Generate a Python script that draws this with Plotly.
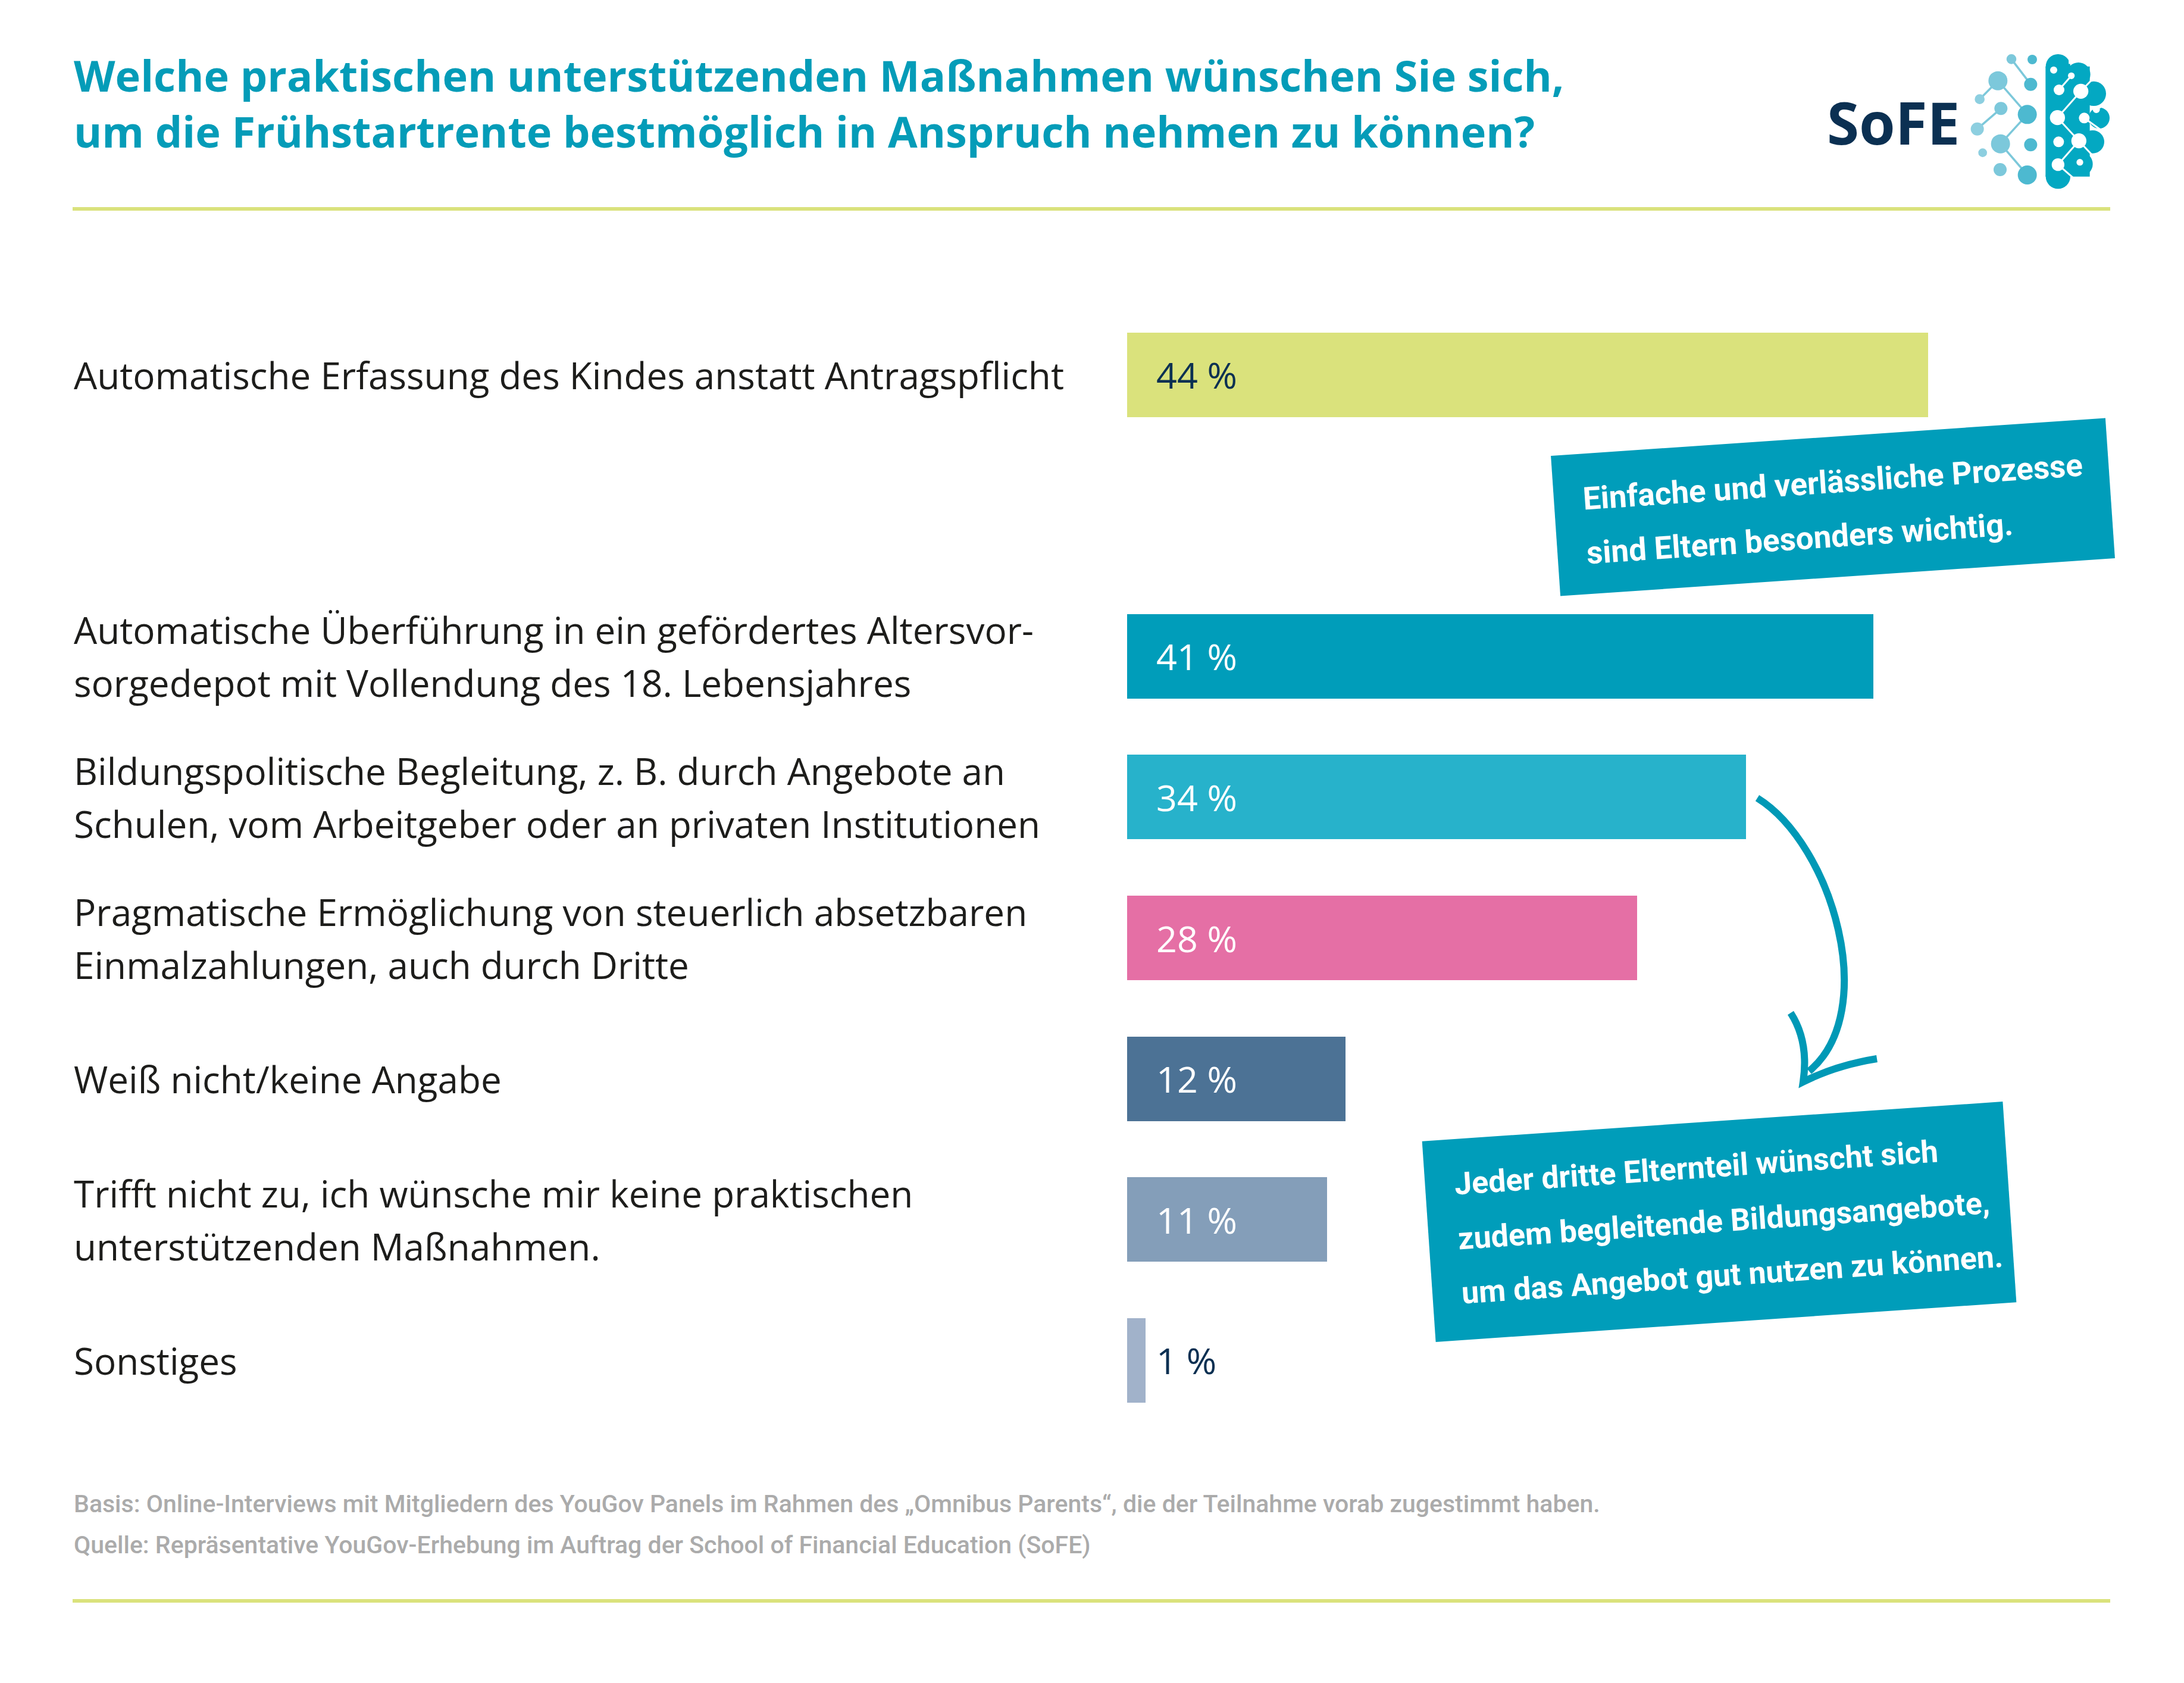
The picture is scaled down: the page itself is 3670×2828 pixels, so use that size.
import math
import plotly.graph_objects as go

W, H = 3670, 2828

# ---------------- data ----------------
categories = [
    "Automatische Erfassung des Kindes anstatt Antragspflicht",
    "Automatische Überführung in ein gefördertes Altersvor-<br>sorgedepot mit Vollendung des 18. Lebensjahres",
    "Bildungspolitische Begleitung, z. B. durch Angebote an<br>Schulen, vom Arbeitgeber oder an privaten Institutionen",
    "Pragmatische Ermöglichung von steuerlich absetzbaren<br>Einmalzahlungen, auch durch Dritte",
    "Weiß nicht/keine Angabe",
    "Trifft nicht zu, ich wünsche mir keine praktischen<br>unterstützenden Maßnahmen.",
    "Sonstiges",
]
values = [44, 41, 34, 28, 12, 11, 1]
bar_colors = ["#DAE27C", "#009DBA", "#27B2CB", "#E56FA5", "#4C7295", "#849EB9", "#A1B2CA"]
value_label_colors = ["#0B3052", "#FFFFFF", "#FFFFFF", "#FFFFFF", "#FFFFFF", "#FFFFFF", "#0B3052"]

title_lines = [
    "Welche praktischen unterstützenden Maßnahmen wünschen Sie sich,",
    "um die Frühstartrente bestmöglich in Anspruch nehmen zu können?",
]
callout1_lines = ["Einfache und verlässliche Prozesse", "sind Eltern besonders wichtig."]
callout2_lines = [
    "Jeder dritte Elternteil wünscht sich",
    "zudem begleitende Bildungsangebote,",
    "um das Angebot gut nutzen zu können.",
]
footer_lines = [
    "Basis: Online-Interviews mit Mitgliedern des YouGov Panels im Rahmen des \u201eOmnibus Parents\u201c, die der Teilnahme vorab zugestimmt haben.",
    "Quelle: Repräsentative YouGov-Erhebung im Auftrag der School of Financial Education (SoFE)",
]

# ---------------- layout helpers ----------------
OPEN = "Open Sans"
NARROW = "Roboto"
TEAL = "#009DBA"
LIME = "#DAE27C"


def PX(x):
    return x / W


def PY(y):
    return 1 - y / H


# bar positions: one empty slot after the first bar
positions = [0] + [i + 1 for i in range(1, len(categories))]

X0_PX, X1_PX = 1893.6, 3546.0
PX_PER_PCT = 30.59
UNIT = 236.6
Y0_PX = 629.6

fig = go.Figure()
fig.add_trace(go.Bar(
    x=values, y=positions, orientation="h",
    marker=dict(color=bar_colors, line=dict(width=0)),
    width=0.6, hoverinfo="skip", showlegend=False,
))

annotations = []
shapes = []


def ann(x, y, text, size, color, family=OPEN, weight=400, xanchor="left",
        yanchor="middle", xref="paper", yref="paper", yshift=0, xshift=0,
        angle=0, width=None, align="left"):
    d = dict(x=x, y=y, xref=xref, yref=yref, text=text, showarrow=False,
             xanchor=xanchor, yanchor=yanchor, xshift=xshift, yshift=yshift,
             align=align, textangle=angle,
             font=dict(family=family, size=size, color=color, weight=weight))
    if width is not None:
        d["width"] = width
    annotations.append(d)


# title (one two-line text)
ann(PX(122), PY(173), "<br>".join(title_lines), 72, "#049CB8", weight=700)

# category labels
LABEL_LH = 89
for cat, p in zip(categories, positions):
    lines = cat.split("<br>")
    n = len(lines)
    for i, ln in enumerate(lines):
        off = (i - (n - 1) / 2) * LABEL_LH
        ann(PX(122), p, ln, 62, "#1D1D1B", yref="y", yshift=-off)

# value labels
for v, p, c in zip(values, positions, value_label_colors):
    ann(0, p, f"{v} %", 61, c, xref="x", yref="y", xshift=47)

# footer
for i, t in enumerate(footer_lines):
    ann(PX(122), PY(2527 + i * 69), t, 41, "#ABABAB", family=NARROW, weight=500)

# horizontal lime rules
for yy in (351, 2690):
    shapes.append(dict(type="line", xref="paper", yref="paper",
                       x0=PX(122), x1=PX(3546), y0=PY(yy), y1=PY(yy),
                       line=dict(color=LIME, width=6)))

# ---------------- callouts ----------------
ANG = 3.9
th = math.radians(ANG)
cs, sn = math.cos(th), math.sin(th)


def rot(C, u, v):
    return (C[0] + u * cs + v * sn, C[1] - u * sn + v * cs)


def callout(C, w, h, lines, first_baseline, spacing, u_left, size=53):
    corners = [rot(C, -w / 2, -h / 2), rot(C, w / 2, -h / 2),
               rot(C, w / 2, h / 2), rot(C, -w / 2, h / 2)]
    path = "M " + " L ".join(f"{PX(x):.5f},{PY(y):.5f}" for x, y in corners) + " Z"
    shapes.append(dict(type="path", xref="paper", yref="paper", path=path,
                       fillcolor=TEAL, line=dict(width=0), layer="above"))
    Wt = 960
    for i, t in enumerate(lines):
        bv = first_baseline + i * spacing
        cx, cy = rot(C, u_left + Wt / 2, bv - 0.34 * size)
        ann(PX(cx), PY(cy), t, size, "#FFFFFF", family=NARROW, weight=700,
            xanchor="center", yanchor="middle", angle=-ANG, width=Wt, align="left")


callout((3080, 852), 934, 236, callout1_lines, -23.6, 91, -418)
callout((2889, 2053), 978, 338, callout2_lines, -75, 91.5, -440, size=52)

# ---------------- arrow ----------------
def pt(x, y):
    return f"{PX(x):.5f},{PY(y):.5f}"


ARROW = "#0099B6"
shapes.append(dict(type="path", xref="paper", yref="paper",
                   path=f"M {pt(2953, 1341)} C {pt(3080, 1420)} {pt(3160, 1700)} {pt(3040, 1800)}",
                   line=dict(color=ARROW, width=12)))
shapes.append(dict(type="path", xref="paper", yref="paper",
                   path=f"M {pt(3009, 1702)} Q {pt(3040, 1750)} {pt(3030, 1818)} Q {pt(3085, 1790)} {pt(3154, 1779)}",
                   line=dict(color=ARROW, width=12)))

# ---------------- logo ----------------
def L(zx, zy):
    return 3050 + zx / 3, 70 + zy / 3


def circle(zx, zy, zr, color):
    cx, cy = L(zx, zy)
    r = zr / 3
    shapes.append(dict(type="circle", xref="paper", yref="paper",
                       x0=PX(cx - r), x1=PX(cx + r), y0=PY(cy + r), y1=PY(cy - r),
                       fillcolor=color, line=dict(width=0)))


def seg(a, b, color, width):
    x0, y0 = L(*a)
    x1, y1 = L(*b)
    shapes.append(dict(type="line", xref="paper", yref="paper",
                       x0=PX(x0), x1=PX(x1), y0=PY(y0), y1=PY(y1),
                       line=dict(color=color, width=width)))


net_links = [((990, 88), (1087, 215)), ((830, 290), (922, 197)), ((922, 197), (1070, 367)),
             ((937, 337), (818, 440)), ((1070, 367), (935, 515)), ((935, 515), (1070, 672))]
for a, b in net_links:
    seg(a, b, "#7CC8DA", 3.5)
net_nodes = [(990, 88, 25), (1095, 90, 24), (922, 197, 48), (1087, 215, 33), (830, 290, 25),
             (937, 337, 33), (1070, 367, 48), (818, 440, 33), (935, 515, 48), (1087, 520, 33),
             (845, 560, 22), (933, 645, 33), (1070, 672, 48)]
for zx, zy, zr in net_nodes:
    col = "#8DCFE0" if zx < 880 else ("#7CC8DB" if zx < 1000 else "#4DB9D0")
    circle(zx, zy, zr, col)

BRAIN = "#03A8C2"
bx0, by0 = L(1162, 125)
bx1, by1 = L(1385, 680)
shapes.append(dict(type="rect", xref="paper", yref="paper",
                   x0=PX(bx0), x1=PX(bx1), y0=PY(by1), y1=PY(by0),
                   fillcolor=BRAIN, line=dict(width=0)))
for zx, zy, zr in [(1225, 125, 62), (1328, 165, 60), (1405, 262, 62), (1432, 385, 53),
                   (1400, 505, 58), (1340, 617, 60), (1225, 680, 62)]:
    circle(zx, zy, zr, BRAIN)
white_links = [((1292, 172), (1230, 243)), ((1340, 250), (1222, 383)), ((1340, 250), (1390, 198)),
               ((1222, 383), (1330, 500)), ((1357, 385), (1455, 455)), ((1418, 342), (1460, 318)),
               ((1330, 500), (1225, 620)), ((1330, 500), (1405, 580)), ((1225, 620), (1300, 685)),
               ((1283, 92), (1283, 112))]
for a, b in white_links:
    seg(a, b, "#FFFFFF", 3)
for zx, zy, zr in [(1203, 143, 18), (1292, 172, 17), (1230, 243, 27), (1340, 250, 38),
                   (1222, 383, 38), (1357, 385, 27), (1418, 342, 18), (1228, 505, 27),
                   (1330, 500, 38), (1225, 620, 32), (1335, 608, 17)]:
    circle(zx, zy, zr, "#FFFFFF")

ann(PX(3068), PY(205), "SoFE", 98, "#0B3052", weight=700)

# ---------------- layout ----------------
fig.update_layout(
    width=W, height=H, autosize=False,
    margin=dict(l=0, r=0, t=0, b=0, pad=0),
    paper_bgcolor="white", plot_bgcolor="white",
    bargap=0,
    xaxis=dict(domain=[X0_PX / W, X1_PX / W], range=[0, (X1_PX - X0_PX) / PX_PER_PCT],
               showgrid=False, zeroline=False, showticklabels=False, showline=False,
               fixedrange=True),
    yaxis=dict(domain=[0, 1], range=[(H - Y0_PX) / UNIT, -Y0_PX / UNIT],
               showgrid=False, zeroline=False, showticklabels=False, showline=False,
               fixedrange=True),
    annotations=annotations,
    shapes=shapes,
    showlegend=False,
)

fig.write_html("out.html")
